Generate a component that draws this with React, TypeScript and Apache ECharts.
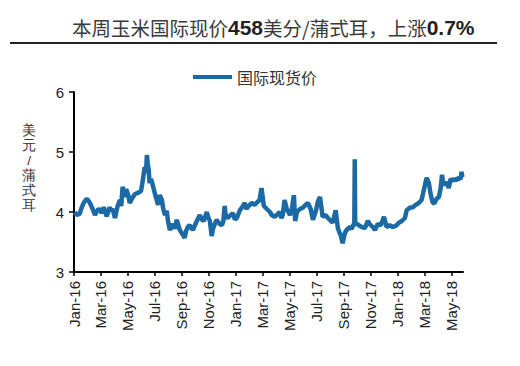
import React, { useEffect, useRef } from "react";
import * as echarts from "echarts";

const tickLabels = [
  "Jan-16", "Mar-16", "May-16", "Jul-16", "Sep-16", "Nov-16",
  "Jan-17", "Mar-17", "May-17", "Jul-17", "Sep-17", "Nov-17",
  "Jan-18", "Mar-18", "May-18",
];

const yTicks = [3, 4, 5, 6];

const dates = [
  "2016-01-03", "2016-01-07", "2016-01-14", "2016-01-19", "2016-01-23", "2016-01-30",
  "2016-02-04", "2016-02-08", "2016-02-12", "2016-02-17", "2016-02-24", "2016-02-28",
  "2016-03-03", "2016-03-07", "2016-03-14", "2016-03-21", "2016-03-24", "2016-03-28",
  "2016-04-02", "2016-04-08", "2016-04-13", "2016-04-16", "2016-04-19", "2016-04-24", "2016-04-27",
  "2016-05-01", "2016-05-05", "2016-05-10", "2016-05-17", "2016-05-24", "2016-05-31",
  "2016-06-04", "2016-06-08", "2016-06-11", "2016-06-13", "2016-06-15", "2016-06-17", "2016-06-19", "2016-06-22", "2016-06-26",
  "2016-07-01", "2016-07-05", "2016-07-08", "2016-07-12", "2016-07-17", "2016-07-20", "2016-07-24", "2016-07-28", "2016-07-31",
  "2016-08-04", "2016-08-11", "2016-08-15", "2016-08-20", "2016-08-27",
  "2016-09-03", "2016-09-07", "2016-09-10", "2016-09-14", "2016-09-18", "2016-09-25",
  "2016-10-01", "2016-10-04", "2016-10-11", "2016-10-15", "2016-10-20", "2016-10-27", "2016-10-30",
  "2016-11-03", "2016-11-07", "2016-11-10", "2016-11-14", "2016-11-18", "2016-11-25", "2016-11-30",
  "2016-12-03", "2016-12-06", "2016-12-09", "2016-12-13", "2016-12-20", "2016-12-25", "2016-12-29",
  "2017-01-03", "2017-01-10", "2017-01-17", "2017-01-21", "2017-01-25", "2017-01-30",
  "2017-02-06", "2017-02-12", "2017-02-18", "2017-02-22", "2017-02-26",
  "2017-03-03", "2017-03-10", "2017-03-17", "2017-03-21", "2017-03-28",
  "2017-04-04", "2017-04-08", "2017-04-12", "2017-04-15", "2017-04-19", "2017-04-24",
  "2017-05-01", "2017-05-05", "2017-05-10", "2017-05-13", "2017-05-17", "2017-05-24", "2017-05-30",
  "2017-06-06", "2017-06-11", "2017-06-17", "2017-06-22", "2017-06-28",
  "2017-07-03", "2017-07-08", "2017-07-14", "2017-07-21", "2017-07-26",
  "2017-08-02", "2017-08-06", "2017-08-13", "2017-08-18", "2017-08-25", "2017-08-29",
  "2017-09-03", "2017-09-07", "2017-09-14", "2017-09-18", "2017-09-23", "2017-09-24", "2017-09-25", "2017-09-26", "2017-09-30",
  "2017-10-04", "2017-10-11", "2017-10-18", "2017-10-25", "2017-10-29",
  "2017-11-05", "2017-11-10", "2017-11-16", "2017-11-23", "2017-11-30",
  "2017-12-06", "2017-12-13", "2017-12-20", "2017-12-27",
  "2018-01-03", "2018-01-10", "2018-01-17", "2018-01-21", "2018-01-28",
  "2018-02-04", "2018-02-10", "2018-02-16", "2018-02-22",
  "2018-03-01", "2018-03-05", "2018-03-10", "2018-03-14", "2018-03-19", "2018-03-23", "2018-03-28",
  "2018-04-02", "2018-04-06", "2018-04-09", "2018-04-11", "2018-04-15", "2018-04-19", "2018-04-24", "2018-04-28",
  "2018-05-03", "2018-05-07", "2018-05-12", "2018-05-16", "2018-05-21", "2018-05-23", "2018-05-25",
];

const prices = [
  4.00, 3.95, 3.97, 4.08, 4.15, 4.22,
  4.18, 4.12, 4.05, 3.95, 4.05, 4.03,
  3.98, 4.08, 3.93, 4.08, 4.02, 4.05,
  3.90, 4.10, 4.20, 4.10, 4.42, 4.25, 4.38,
  4.30, 4.15, 4.22, 4.30, 4.32, 4.35,
  4.53, 4.75, 4.65, 4.95, 4.80, 4.70, 4.48, 4.55, 4.45,
  4.30, 4.20, 4.12, 4.28, 4.20, 4.05, 3.95, 4.02, 3.85,
  3.70, 3.80, 3.72, 3.87, 3.70,
  3.62, 3.57, 3.68, 3.75, 3.78, 3.70,
  3.80, 3.85, 3.95, 3.88, 3.85, 4.00, 3.92,
  3.85, 3.60, 3.72, 3.80, 3.87, 3.80, 3.78,
  3.85, 4.10, 3.92, 3.90, 3.95, 3.98, 3.88,
  3.90, 4.03, 4.10, 4.15, 4.05, 4.10,
  4.15, 4.12, 4.17, 4.20, 4.40,
  4.10, 4.05, 4.00, 3.95, 3.92,
  3.97, 4.00, 3.90, 3.95, 4.20, 4.05,
  3.95, 4.03, 4.28, 3.85, 4.00, 4.05, 4.07,
  4.12, 4.15, 4.05, 3.87, 4.00,
  4.17, 4.25, 3.92, 3.95, 3.90,
  3.85, 3.82, 4.03, 3.73, 3.60, 3.48,
  3.65, 3.70, 3.75, 3.72, 3.80, 3.78, 4.88, 3.80, 3.80,
  3.78, 3.75, 3.73, 3.85, 3.80,
  3.75, 3.70, 3.80, 3.78, 3.92,
  3.75, 3.78, 3.75, 3.77,
  3.82, 3.85, 3.90, 4.03, 4.07,
  4.08, 4.12, 4.15, 4.20,
  4.45, 4.57, 4.48, 4.30, 4.15, 4.15, 4.22,
  4.25, 4.40, 4.62, 4.50, 4.45, 4.50, 4.40, 4.55,
  4.52, 4.55, 4.53, 4.57, 4.55, 4.67, 4.58,
];

const seriesName = "国际现货价";
const titleParts = ["本周玉米国际现价", "458", "美分/蒲式耳，上涨", "0.7%"];
const yAxisName = "美元/蒲式耳";

const toMonth = (s: string) => {
  const [y, m, d] = s.split("-").map(Number);
  const dim = new Date(y, m, 0).getDate();
  return (y - 2016) * 12 + (m - 1) + (d - 1) / dim;
};

const LINE_COLOR = "#1b6aa5";
const CJK = "'Noto Sans CJK SC', sans-serif";
const LATIN = "'Liberation Sans', Arial, sans-serif";

export default function App() {
  const ref = useRef<HTMLDivElement>(null);
  useEffect(() => {
    if (!ref.current) return;
    const chart = echarts.init(ref.current, undefined, { renderer: "svg" });
    const data = dates.map((d, i) => [toMonth(d), prices[i]]);
    const tickVals = tickLabels.map((_, i) => i * 2);
    chart.setOption({
      animation: false,
      grid: { left: 74, right: 57, top: 92, bottom: 94, containLabel: false },
      legend: {
        data: [{ name: seriesName, icon: "rect" }],
        left: 188,
        top: 64,
        itemWidth: 39,
        itemHeight: 4,
        itemGap: 5,
        textStyle: { fontFamily: CJK, fontSize: 16, color: "#333" },
      },
      xAxis: {
        type: "value",
        min: 0,
        max: 28.82,
        interval: 2,
        splitLine: { show: false },
        axisLine: { show: true, lineStyle: { color: "#000", width: 2 } },
        axisTick: {
          show: true,
          length: 4,
          customValues: tickVals,
          lineStyle: { color: "#000", width: 1.5 },
        },
        axisLabel: {
          customValues: tickVals,
          rotate: 90,
          margin: 9,
          fontFamily: LATIN,
          fontSize: 15,
          color: "#222",
          showMaxLabel: true,
          showMinLabel: true,
          formatter: (v: number) => {
            const i = Math.round(v / 2);
            return Math.abs(v - i * 2) < 1e-6 && tickLabels[i] ? tickLabels[i] : "";
          },
        },
      },
      yAxis: {
        type: "value",
        min: yTicks[0],
        max: yTicks[yTicks.length - 1],
        interval: 1,
        splitLine: { show: false },
        axisLine: { show: true, lineStyle: { color: "#000", width: 2 } },
        axisTick: { show: true, length: 5, lineStyle: { color: "#000", width: 1.5 } },
        axisLabel: { fontFamily: LATIN, fontSize: 15, color: "#222", margin: 10 },
      },
      series: [
        {
          name: seriesName,
          type: "line",
          data,
          showSymbol: false,
          symbol: "none",
          lineStyle: { color: LINE_COLOR, width: 4.5 },
          itemStyle: { color: LINE_COLOR },
        },
      ],
      graphic: [
        {
          type: "text",
          x: 72,
          y: 27,
          style: {
            text:
              `{a|${titleParts[0]}}{b|${titleParts[1]}}{a|${titleParts[2]}}{b|${titleParts[3]}}`,
            verticalAlign: "middle",
            rich: {
              a: { fontFamily: CJK, fontSize: 19.5, fill: "#3a3a3a", color: "#3a3a3a" },
              b: { fontFamily: LATIN, fontSize: 21, fontWeight: "bold", fill: "#222", color: "#222" },
            },
          },
        },
        {
          type: "line",
          shape: { x1: 10, y1: 43, x2: 497, y2: 43 },
          style: { stroke: "#222", lineWidth: 2 },
        },
        {
          type: "text",
          x: 29,
          y: 168,
          style: {
            text: yAxisName.split("").join("\n"),
            fontFamily: LATIN,
            fontSize: 13.5,
            lineHeight: 15,
            fill: "#333",
            align: "center",
            verticalAlign: "middle",
          },
        },
      ],
    });
    return () => chart.dispose();
  }, []);
  return (
    <div
      ref={ref}
      style={{ position: "absolute", left: 0, top: 0, width: 520, height: 366, background: "#fff" }}
    />
  );
}
